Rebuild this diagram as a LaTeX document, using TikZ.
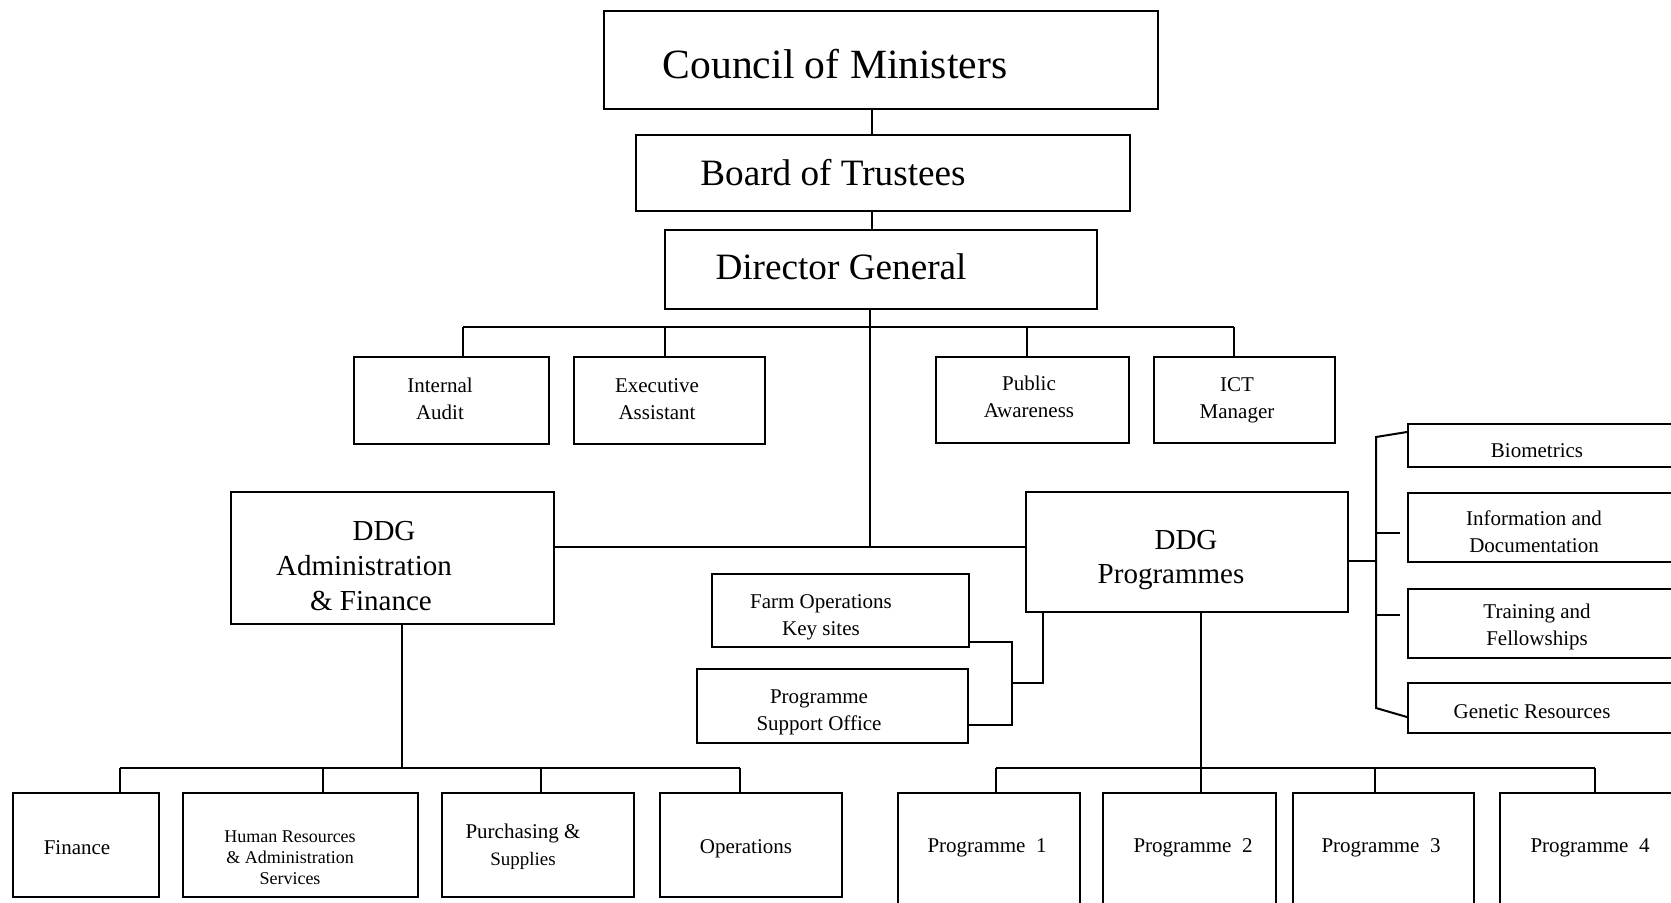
\documentclass[tikz,border=0pt]{standalone}
\usepackage{fontspec}
\setmainfont{Liberation Serif}
\usetikzlibrary{fit}
\begin{document}
\begin{tikzpicture}[x=0.5pt,y=-0.5pt,
  box/.style={draw, line width=1pt, inner sep=0pt},
  conn/.style={line width=1pt},
  big/.style={font=\fontsize{20.8}{25}\selectfont, inner sep=0pt},
  mid/.style={font=\fontsize{18.6}{22}\selectfont, inner sep=0pt},
  ddg/.style={font=\fontsize{14.5}{17.4}\selectfont, align=center, inner sep=0pt},
  small/.style={font=\fontsize{10.5}{13.5}\selectfont, align=center, inner sep=0pt},
  tiny/.style={font=\fontsize{9}{10.5}\selectfont, align=center, inner sep=0pt}]

\useasboundingbox (0,0) rectangle (1671,902);
\fill[white] (0,0) rectangle (1671,902);
\clip (0,0) rectangle (1671,902);

% top chain
\node[box, fit={(604,11) (1158,109)}] (council) {};
\node[big] (councilT) at (835,64) {Council of Ministers};
\node[box, fit={(636,135) (1130,211)}] (board) {};
\node[mid] (boardT) at (833,173) {Board of Trustees};
\node[box, fit={(665,230) (1097,309)}] (dg) {};
\node[mid] (dgT) at (841,267) {Director General};

% staff boxes
\node[box, fit={(354,357) (549,444)}] (ia) {};
\node[small] (iaT) at (440,399) {Internal\\Audit};
\node[box, fit={(574,357) (765,444)}] (ea) {};
\node[small] (eaT) at (657,399) {Executive\\Assistant};
\node[box, fit={(936,357) (1129,443)}] (pa) {};
\node[small] (paT) at (1029,397) {Public\\Awareness};
\node[box, fit={(1154,357) (1335,443)}] (ict) {};
\node[small] (ictT) at (1237,400) {ICT\\Manager};

% DDGs
\node[box, fit={(231,492) (554,624)}] (af) {};
\node[ddg] (afT) at (364,566) {\hspace*{20pt}DDG\\Administration\\\hspace*{7pt}\& Finance};
\node[box, fit={(1026,492) (1348,612)}] (dp) {};
\node[ddg] (dpT) at (1171,560) {\hspace*{15pt}DDG\\Programmes};

% farm and PSO
\node[box, fit={(712,574) (969,647)}] (farm) {};
\node[small] (farmT) at (821,617) {Farm Operations\\Key sites};
\node[box, fit={(697,669) (968,743)}] (pso) {};
\node[small] (psoT) at (819,712) {Programme\\Support Office};

% right units
\node[box, fit={(1408,424) (1700,467)}] (bio) {};
\node[small] (bioT) at (1537,451) {Biometrics};
\node[box, fit={(1408,493) (1700,562)}] (info) {};
\node[small] (infoT) at (1534,532) {Information and\\Documentation};
\node[box, fit={(1408,589) (1700,658)}] (train) {};
\node[small] (trainT) at (1537,627) {Training and\\Fellowships};
\node[box, fit={(1408,683) (1700,733)}] (gen) {};
\node[small] (genT) at (1532,712) {Genetic Resources};

% bottom left
\node[box, fit={(13,793) (159,897)}] (fin) {};
\node[small] (finT) at (77,848) {Finance};
\node[box, fit={(183,793) (418,897)}] (hr) {};
\node[tiny] (hrT) at (290,858) {Human Resources\\\& Administration\\Services};
\node[box, fit={(442,793) (634,897)}] (pur) {};
\node[small] (purT) at (523,847) {Purchasing \&\\{\fontsize{9.5}{11}\selectfont Supplies}};
\node[box, fit={(660,793) (842,897)}] (ops) {};
\node[small] (opsT) at (746,849) {Operations};

% bottom right
\node[box, fit={(898,793) (1080,930)}] (p1) {};
\node[small] (p1T) at (987,848) {Programme\ \ 1};
\node[box, fit={(1103,793) (1276,930)}] (p2) {};
\node[small] (p2T) at (1193,848) {Programme\ \ 2};
\node[box, fit={(1293,793) (1474,930)}] (p3) {};
\node[small] (p3T) at (1381,848) {Programme\ \ 3};
\node[box, fit={(1500,793) (1700,930)}] (p4) {};
\node[small] (p4T) at (1590,848) {Programme\ \ 4};

% connectors: top chain
\coordinate (cx) at (872,0);
\draw[conn] (cx |- council.south) -- (cx |- board.north);
\draw[conn] (cx |- board.south) -- (cx |- dg.north);

% DG stem and DDG line
\coordinate (dgx) at (870,547);
\draw[conn] (dgx |- dg.south) -- (dgx);
\draw[conn] (af.east |- dgx) -- (dp.west |- dgx);

% staff bus
\coordinate (b1) at (463,327);
\coordinate (b2) at (665,327);
\coordinate (b3) at (1027,327);
\coordinate (b4) at (1234,327);
\draw[conn] (b1) -- (b4);
\draw[conn] (b1) -- (b1 |- ia.north);
\draw[conn] (b2) -- (b2 |- ea.north);
\draw[conn] (b3) -- (b3 |- pa.north);
\draw[conn] (b4) -- (b4 |- ict.north);

% farm / PSO link
\coordinate (fx) at (1012,642);
\coordinate (px) at (1012,725);
\coordinate (dx) at (1043,683);
\draw[conn] (farm.east |- fx) -- (fx) -- (px) -- (pso.east |- px);
\draw[conn] (dx |- dp.south) -- (dx) -- (dx -| fx);

% right bracket
\coordinate (rt) at (1376,437);
\coordinate (rb) at (1376,708);
\coordinate (rm) at (1376,561);
\coordinate (ri) at (1376,533);
\coordinate (rtr) at (1376,615);
\draw[conn] (bio.west |- 0,432) -- (rt) -- (rb) -- (gen.west |- 0,717);
\draw[conn] (dp.east |- rm) -- (rm);
\draw[conn] (ri) -- ++(24,0);
\draw[conn] (rtr) -- ++(24,0);

% bottom left bus
\coordinate (l0) at (402,768);
\coordinate (l1) at (120,768);
\coordinate (l2) at (323,768);
\coordinate (l3) at (541,768);
\coordinate (l4) at (740,768);
\draw[conn] (l0 |- af.south) -- (l0);
\draw[conn] (l1) -- (l4);
\draw[conn] (l1) -- (l1 |- fin.north);
\draw[conn] (l2) -- (l2 |- hr.north);
\draw[conn] (l3) -- (l3 |- pur.north);
\draw[conn] (l4) -- (l4 |- ops.north);

% bottom right bus
\coordinate (r0) at (1201,768);
\coordinate (r1) at (996,768);
\coordinate (r3) at (1375,768);
\coordinate (r4) at (1595,768);
\draw[conn] (r0 |- dp.south) -- (r0);
\draw[conn] (r1) -- (r4);
\draw[conn] (r1) -- (r1 |- p1.north);
\draw[conn] (r0) -- (r0 |- p2.north);
\draw[conn] (r3) -- (r3 |- p3.north);
\draw[conn] (r4) -- (r4 |- p4.north);
\end{tikzpicture}
\end{document}
